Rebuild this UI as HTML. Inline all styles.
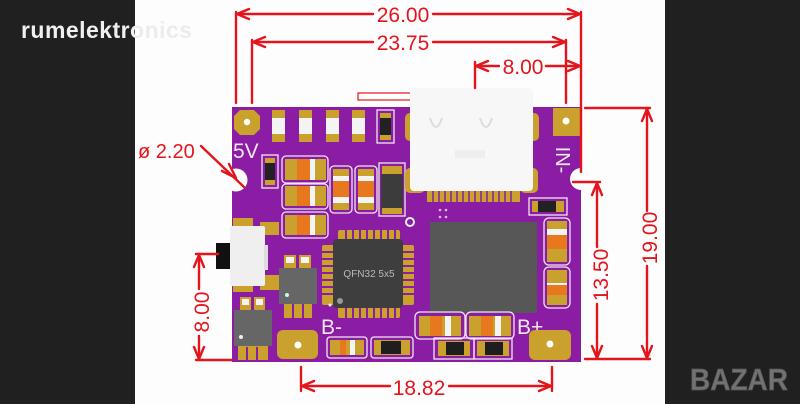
<!DOCTYPE html>
<html><head><meta charset="utf-8"><style>
html,body{margin:0;padding:0;background:#fff;}
svg{display:block;}
</style></head><body>
<svg width="800" height="404" viewBox="0 0 800 404" xmlns="http://www.w3.org/2000/svg" font-family="Liberation Sans, sans-serif">
<rect x="0" y="0" width="800" height="404" fill="#fdfdfd"/>
<rect x="0" y="0" width="135" height="404" fill="#202020"/>
<rect x="665" y="0" width="135" height="404" fill="#202020"/>

<!-- PCB board -->
<rect x="232" y="107" width="349" height="255" fill="#8a1da3"/>
<circle cx="236" cy="180" r="11.5" fill="#fdfdfd"/>
<circle cx="581" cy="179" r="11" fill="#fdfdfd"/>

<!-- top-left gold pad -->
<polygon points="240,110 254,110 260,116 260,129 254,135 240,135 234,129 234,116" fill="#c9a12c"/>
<circle cx="247" cy="122" r="3.2" fill="#fff"/>

<!-- top row resistors -->
<g>
<rect x="272" y="110" width="13" height="32" fill="#c9a12c"/><rect x="272" y="118" width="13" height="16" fill="#f4f4f4"/>
<rect x="299" y="110" width="13" height="32" fill="#c9a12c"/><rect x="299" y="118" width="13" height="16" fill="#f4f4f4"/>
<rect x="326" y="110" width="13" height="32" fill="#c9a12c"/><rect x="326" y="118" width="13" height="16" fill="#f4f4f4"/>
<rect x="352" y="110" width="13" height="32" fill="#c9a12c"/><rect x="352" y="118" width="13" height="16" fill="#f4f4f4"/>
<rect x="377" y="110" width="17" height="33" fill="none" stroke="#f0e6f0" stroke-width="1.3"/>
<rect x="380" y="113" width="11" height="27" fill="#c9a12c"/><rect x="380" y="118" width="11" height="17" fill="#222"/>
</g>

<!-- 5V label -->
<text x="233" y="158" font-size="21" fill="#f2e8f2">5V</text>

<!-- small black resistor left -->
<rect x="262" y="155" width="16" height="33" fill="none" stroke="#f0e6f0" stroke-width="1.3"/>
<rect x="265" y="158" width="10" height="27" fill="#c9a12c"/><rect x="265" y="163" width="10" height="17" fill="#222"/>

<!-- horizontal caps column -->
<g stroke="#f0e6f0" stroke-width="1.3" fill="none">
<rect x="282" y="156" width="46" height="27" rx="4"/>
<rect x="282" y="184" width="46" height="25" rx="4"/>
<rect x="282" y="212" width="46" height="26" rx="4"/>
<rect x="330" y="166" width="22" height="47" rx="4"/>
<rect x="355" y="166" width="22" height="47" rx="4"/>
</g>
<g>
<rect x="285" y="159" width="41" height="21" fill="#c9a12c"/><rect x="297" y="159" width="13" height="21" fill="#e8781e"/><rect x="310" y="159" width="5" height="21" fill="#f4f4f4"/>
<rect x="285" y="186" width="41" height="20" fill="#c9a12c"/><rect x="297" y="186" width="13" height="20" fill="#e8781e"/><rect x="310" y="186" width="5" height="20" fill="#f4f4f4"/>
<rect x="285" y="215" width="41" height="20" fill="#c9a12c"/><rect x="297" y="215" width="13" height="20" fill="#e8781e"/><rect x="310" y="215" width="5" height="20" fill="#f4f4f4"/>
<rect x="333" y="169" width="16" height="41" fill="#c9a12c"/><rect x="333" y="176" width="16" height="5" fill="#f4f4f4"/><rect x="333" y="181" width="16" height="16" fill="#e8781e"/><rect x="333" y="197" width="16" height="6" fill="#f4f4f4"/>
<rect x="358" y="169" width="16" height="41" fill="#c9a12c"/><rect x="358" y="176" width="16" height="5" fill="#f4f4f4"/><rect x="358" y="181" width="16" height="16" fill="#e8781e"/><rect x="358" y="197" width="16" height="6" fill="#f4f4f4"/>
</g>

<!-- inductor / dark part -->
<rect x="379" y="163" width="26" height="53" fill="none" stroke="#f0e6f0" stroke-width="1.3"/>
<rect x="382" y="166" width="20" height="8" fill="#c9a12c"/>
<rect x="381" y="174" width="22" height="37" rx="2" fill="#3c3c3c"/>
<rect x="382" y="208" width="20" height="6" fill="#c9a12c"/>
<circle cx="410" cy="222" r="4" fill="none" stroke="#eee" stroke-width="2"/>

<!-- red outline above board -->
<rect x="358" y="93" width="54" height="7" fill="#fff" stroke="#e5141c" stroke-width="1.2"/>

<!-- USB-C connector -->
<rect x="405" y="113" width="12" height="28" rx="5" fill="#c9a12c"/>
<rect x="405" y="168" width="20" height="25" rx="5" fill="#c9a12c"/>
<rect x="527" y="113" width="12" height="28" rx="5" fill="#c9a12c"/>
<rect x="520" y="168" width="18" height="25" rx="5" fill="#c9a12c"/>
<rect x="427" y="186" width="93" height="16" fill="#c9a12c"/>
<g stroke="#8a1da3" stroke-width="1.5">
<line x1="433" y1="190" x2="433" y2="202"/><line x1="439" y1="190" x2="439" y2="202"/><line x1="445" y1="190" x2="445" y2="202"/><line x1="451" y1="190" x2="451" y2="202"/><line x1="457" y1="190" x2="457" y2="202"/><line x1="463" y1="190" x2="463" y2="202"/><line x1="469" y1="190" x2="469" y2="202"/><line x1="475" y1="190" x2="475" y2="202"/><line x1="481" y1="190" x2="481" y2="202"/><line x1="487" y1="190" x2="487" y2="202"/><line x1="493" y1="190" x2="493" y2="202"/><line x1="499" y1="190" x2="499" y2="202"/><line x1="505" y1="190" x2="505" y2="202"/><line x1="511" y1="190" x2="511" y2="202"/>
</g>
<rect x="410" y="88" width="123" height="103" rx="4" fill="#f7f7f7"/>
<path d="M430,118 q6,18 12,0 M480,118 q6,18 12,0" stroke="#ddd" stroke-width="2" fill="none"/>
<rect x="455" y="150" width="30" height="8" fill="#eee"/>
<circle cx="440" cy="210" r="1.3" fill="#d9b9e0"/><circle cx="446" cy="210" r="1.3" fill="#d9b9e0"/><circle cx="440" cy="217" r="1.3" fill="#d9b9e0"/><circle cx="446" cy="217" r="1.3" fill="#d9b9e0"/>

<!-- IN- pad -->
<rect x="553" y="108" width="28" height="28" fill="#c9a12c"/>
<circle cx="566" cy="121" r="3.5" fill="#fff"/>
<text transform="translate(556,160) rotate(90)" font-size="20" fill="#f2e8f2" text-anchor="middle">IN-</text>

<!-- small resistor right -->
<rect x="529" y="198" width="38" height="17" fill="none" stroke="#f0e6f0" stroke-width="1.3"/>
<rect x="532" y="201" width="32" height="11" fill="#c9a12c"/><rect x="538" y="201" width="18" height="11" fill="#222"/>

<!-- left side pads & switch -->
<rect x="233" y="218" width="20" height="12" fill="#c9a12c"/>
<rect x="260" y="222" width="19" height="13" fill="#c9a12c"/>
<rect x="260" y="275" width="19" height="15" fill="#c9a12c"/>
<rect x="233" y="280" width="20" height="12" fill="#c9a12c"/>
<rect x="216" y="243" width="16" height="26" fill="#111"/>
<rect x="230" y="226" width="35" height="60" rx="2" fill="#efefef"/>
<rect x="264" y="245" width="4" height="25" fill="#ddd"/>

<!-- SOT chip 1 -->
<rect x="284" y="255" width="12" height="14" fill="#c9a12c"/><rect x="299" y="255" width="12" height="14" fill="#c9a12c"/>
<rect x="286" y="257" width="8" height="6" fill="#f4f4f4"/><rect x="301" y="257" width="8" height="6" fill="#f4f4f4"/>
<rect x="284" y="302" width="28" height="16" fill="#c9a12c"/>
<line x1="293" y1="304" x2="293" y2="318" stroke="#8a1da3" stroke-width="2"/><line x1="303" y1="304" x2="303" y2="318" stroke="#8a1da3" stroke-width="2"/>
<rect x="279" y="268" width="38" height="36" fill="#666"/>
<circle cx="287" cy="295" r="2" fill="#bfe"/>

<!-- SOT chip 2 -->
<rect x="240" y="297" width="11" height="14" fill="#c9a12c"/><rect x="254" y="297" width="11" height="14" fill="#c9a12c"/>
<rect x="242" y="299" width="7" height="6" fill="#f4f4f4"/><rect x="256" y="299" width="7" height="6" fill="#f4f4f4"/>
<rect x="238" y="345" width="30" height="15" fill="#c9a12c"/>
<line x1="247" y1="347" x2="247" y2="360" stroke="#8a1da3" stroke-width="2"/><line x1="257" y1="347" x2="257" y2="360" stroke="#8a1da3" stroke-width="2"/>
<rect x="234" y="310" width="38" height="36" fill="#666"/>
<circle cx="241" cy="337" r="2" fill="#eee"/>

<!-- QFN32 -->
<g fill="#c9a12c">
<rect x="338" y="230" width="62" height="11" rx="2"/>
<rect x="338" y="306" width="62" height="12" rx="2"/>
<rect x="322" y="245" width="12" height="60" rx="2"/>
<rect x="402" y="245" width="12" height="60" rx="2"/>
</g>
<g stroke="#8a1da3" stroke-width="2">
<line x1="346" y1="230" x2="346" y2="241"/><line x1="353" y1="230" x2="353" y2="241"/><line x1="360" y1="230" x2="360" y2="241"/><line x1="367" y1="230" x2="367" y2="241"/><line x1="374" y1="230" x2="374" y2="241"/><line x1="381" y1="230" x2="381" y2="241"/><line x1="388" y1="230" x2="388" y2="241"/><line x1="395" y1="230" x2="395" y2="241"/>
<line x1="346" y1="306" x2="346" y2="318"/><line x1="353" y1="306" x2="353" y2="318"/><line x1="360" y1="306" x2="360" y2="318"/><line x1="367" y1="306" x2="367" y2="318"/><line x1="374" y1="306" x2="374" y2="318"/><line x1="381" y1="306" x2="381" y2="318"/><line x1="388" y1="306" x2="388" y2="318"/><line x1="395" y1="306" x2="395" y2="318"/>
<line x1="322" y1="252" x2="334" y2="252"/><line x1="322" y1="259" x2="334" y2="259"/><line x1="322" y1="266" x2="334" y2="266"/><line x1="322" y1="273" x2="334" y2="273"/><line x1="322" y1="280" x2="334" y2="280"/><line x1="322" y1="287" x2="334" y2="287"/><line x1="322" y1="294" x2="334" y2="294"/>
<line x1="402" y1="252" x2="414" y2="252"/><line x1="402" y1="259" x2="414" y2="259"/><line x1="402" y1="266" x2="414" y2="266"/><line x1="402" y1="273" x2="414" y2="273"/><line x1="402" y1="280" x2="414" y2="280"/><line x1="402" y1="287" x2="414" y2="287"/><line x1="402" y1="294" x2="414" y2="294"/>
</g>
<rect x="333" y="239" width="70" height="69" rx="4" fill="#3e3e3e"/>
<text x="369" y="277" font-size="10" fill="#b8b8b8" text-anchor="middle">QFN32 5x5</text>
<circle cx="340" cy="301" r="3" fill="#999"/>
<circle cx="330" cy="305" r="1.5" fill="#eee"/>

<!-- big chip -->
<rect x="430" y="222" width="107" height="91" fill="#575757"/>

<!-- right vertical caps -->
<g stroke="#f0e6f0" stroke-width="1.3" fill="none">
<rect x="544" y="218" width="26" height="47" rx="5"/>
<rect x="544" y="267" width="26" height="41" rx="5"/>
</g>
<rect x="547" y="221" width="20" height="41" fill="#c9a12c"/><rect x="547" y="229" width="20" height="6" fill="#f4f4f4"/><rect x="547" y="235" width="20" height="14" fill="#e8781e"/>
<rect x="547" y="270" width="20" height="35" fill="#c9a12c"/><rect x="547" y="283" width="20" height="6" fill="#f4f4f4"/><rect x="547" y="285" width="20" height="10" fill="#e8781e"/>

<!-- bottom caps -->
<g stroke="#f0e6f0" stroke-width="1.3" fill="none">
<rect x="415" y="312" width="50" height="27" rx="5"/>
<rect x="466" y="312" width="48" height="27" rx="5"/>
<rect x="434" y="338" width="40" height="21"/>
<rect x="474" y="338" width="38" height="21"/>
<rect x="327" y="337" width="40" height="21" rx="3"/>
<rect x="371" y="337" width="42" height="21" rx="3"/>
</g>
<rect x="419" y="316" width="42" height="20" fill="#c9a12c"/><rect x="430" y="316" width="12" height="20" fill="#e8781e"/><rect x="445" y="316" width="6" height="20" fill="#f4f4f4"/>
<rect x="469" y="316" width="42" height="20" fill="#c9a12c"/><rect x="481" y="316" width="12" height="20" fill="#e8781e"/><rect x="495" y="316" width="6" height="20" fill="#f4f4f4"/>
<rect x="438" y="341" width="32" height="15" fill="#c9a12c"/><rect x="446" y="342" width="18" height="13" fill="#1e1e1e"/>
<rect x="477" y="341" width="32" height="15" fill="#c9a12c"/><rect x="485" y="342" width="18" height="13" fill="#1e1e1e"/>
<rect x="330" y="340" width="34" height="15" fill="#c9a12c"/><rect x="340" y="340" width="6" height="15" fill="#e8781e"/><rect x="350" y="340" width="5" height="15" fill="#f4f4f4"/>
<rect x="374" y="340" width="36" height="15" fill="#c9a12c"/><rect x="381" y="341" width="20" height="13" fill="#1e1e1e"/>

<!-- B- / B+ -->
<text x="321" y="334" font-size="21" fill="#f2e8f2">B-</text>
<rect x="277" y="330" width="41" height="29" rx="6" fill="#c9a12c"/>
<circle cx="298" cy="345" r="3.5" fill="#fff"/>
<text x="517" y="334" font-size="21" fill="#f2e8f2">B+</text>
<rect x="529" y="330" width="42" height="30" rx="6" fill="#c9a12c"/>
<circle cx="550" cy="344" r="3.5" fill="#fff"/>

<!-- dimension lines -->
<g stroke="#e5141c" stroke-width="2.4" fill="none" stroke-linecap="round" stroke-linejoin="round">
<!-- 26.00 -->
<path d="M236,12 V103 M581,12 V172 M236,14 H373 M433,14 H581"/>
<path d="M249,9 L237,14 L249,19 M568,9 L580,14 L568,19"/>
<!-- 23.75 -->
<path d="M252,40 V103 M566,40 V103 M252,42 H373 M433,42 H566"/>
<path d="M265,37 L253,42 L265,47 M553,37 L565,42 L553,47"/>
<!-- 8.00 -->
<path d="M475,62 V88 M475,66 H499 M546,66 H581"/>
<path d="M488,61 L476,66 L488,71 M568,61 L580,66 L568,71"/>
<!-- right 19.00 -->
<path d="M585,108 H650 M647,108 V211 M647,266 V359 M585,359 H650"/>
<path d="M642,121 L647,109 L652,121 M642,346 L647,358 L652,346"/>
<!-- 13.50 -->
<path d="M573,182 H600 M597,182 V247 M597,304 V359"/>
<path d="M592,195 L597,183 L602,195 M592,346 L597,358 L602,346"/>
<!-- left 8.00 -->
<path d="M196,254 H218 M196,360 H232 M199,254 V289 M199,336 V360"/>
<path d="M194,267 L199,255 L204,267 M194,347 L199,359 L204,347"/>
<!-- 18.82 -->
<path d="M301,367 V391 M552,367 V391 M301,386 H390 M449,386 H552"/>
<path d="M314,381 L302,386 L314,391 M539,381 L551,386 L539,391"/>
<!-- ø arrow -->
<path d="M201,146 L244,187"/>
<path d="M229,164 L236,178 L222,171"/>
</g>
<g fill="#e5141c" font-size="21">
<text x="403" y="22" text-anchor="middle">26.00</text>
<text x="403" y="50" text-anchor="middle">23.75</text>
<text x="523" y="74" text-anchor="middle">8.00</text>
<text x="419" y="395" text-anchor="middle">18.82</text>
<text transform="translate(657,238) rotate(-90)" text-anchor="middle">19.00</text>
<text transform="translate(608,275) rotate(-90)" text-anchor="middle">13.50</text>
<text transform="translate(209,312) rotate(-90)" text-anchor="middle">8.00</text>
<text x="138" y="158" font-size="20">ø 2.20</text>
</g>

<!-- watermark -->
<clipPath id="cl"><rect x="0" y="0" width="135" height="60"/></clipPath>
<clipPath id="cr"><rect x="135" y="0" width="100" height="60"/></clipPath>
<text x="21" y="38" font-size="23" font-weight="bold" fill="#f0f0f0" textLength="171" clip-path="url(#cl)">rumelektronics</text>
<text x="21" y="38" font-size="23" font-weight="bold" fill="#ececec" textLength="171" clip-path="url(#cr)">rumelektronics</text>

<!-- BAZAR logo -->
<text x="690" y="390" font-size="31" font-weight="bold" fill="#727272" stroke="#555" stroke-width="0.8" textLength="98" lengthAdjust="spacingAndGlyphs">BAZAR</text>
</svg>
</body></html>
